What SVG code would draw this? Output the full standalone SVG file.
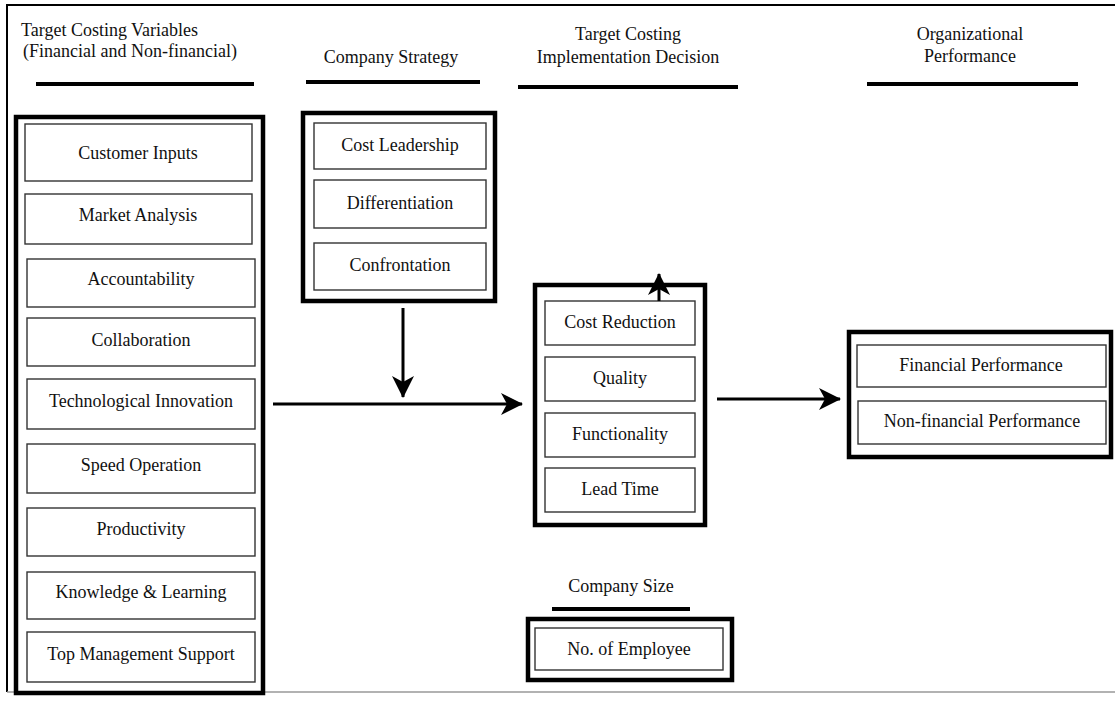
<svg xmlns="http://www.w3.org/2000/svg" width="1115" height="702" viewBox="0 0 1115 702">
<style>
text{font-family:"Liberation Serif","Times New Roman",serif;font-size:18px;fill:#111;text-anchor:middle;dominant-baseline:central}
.outer{fill:#fff;stroke:#000;stroke-width:4.5}
.inner{fill:#fff;stroke:#333;stroke-width:1.4}
.ul{stroke:#000;stroke-width:4}
.conn{stroke:#000;stroke-width:3;fill:none}
</style>
<defs>
<marker id="ah" viewBox="0 0 22 22" refX="21" refY="11" markerWidth="22" markerHeight="22" markerUnits="userSpaceOnUse" orient="auto">
<path d="M0,0 L22,11 L0,22 L6,11 Z" fill="#000"/>
</marker>
</defs>
<rect width="1115" height="702" fill="#fff"/>
<g id="frame">
<line x1="6" y1="5" x2="1115" y2="5" stroke="#000" stroke-width="2"/>
<line x1="7" y1="5" x2="7" y2="692" stroke="#000" stroke-width="2"/>
<line x1="7" y1="692" x2="1115" y2="692" stroke="#999" stroke-width="1.5"/>
</g>
<g id="headers">
<text x="21" y="30" style="text-anchor:start">Target Costing Variables</text>
<text x="23" y="51" style="text-anchor:start">(Financial and Non-financial)</text>
<line class="ul" x1="36" y1="84" x2="254" y2="84"/>
<text x="391" y="57">Company Strategy</text>
<line class="ul" x1="306" y1="82" x2="480" y2="82"/>
<text x="628" y="34">Target Costing</text>
<text x="628" y="57">Implementation Decision</text>
<line class="ul" x1="518" y1="87" x2="738" y2="87"/>
<text x="970" y="34">Organizational</text>
<text x="970" y="56">Performance</text>
<line class="ul" x1="867" y1="84" x2="1078" y2="84"/>
<text x="621" y="586">Company Size</text>
<line class="ul" x1="552" y1="609" x2="690" y2="609"/>
</g>
<g id="variables">
<rect class="outer" x="16" y="117" width="247" height="576"/>
<rect class="inner" x="25" y="124" width="227" height="57"/>
<text x="138" y="153">Customer Inputs</text>
<rect class="inner" x="25" y="194" width="227" height="50"/>
<text x="138" y="215">Market Analysis</text>
<rect class="inner" x="27" y="259" width="228" height="48"/>
<text x="141" y="279">Accountability</text>
<rect class="inner" x="27" y="318" width="228" height="48"/>
<text x="141" y="340">Collaboration</text>
<rect class="inner" x="27" y="379" width="228" height="50"/>
<text x="141" y="401">Technological Innovation</text>
<rect class="inner" x="27" y="444" width="228" height="49"/>
<text x="141" y="465">Speed Operation</text>
<rect class="inner" x="27" y="508" width="228" height="48"/>
<text x="141" y="529">Productivity</text>
<rect class="inner" x="27" y="572" width="228" height="47"/>
<text x="141" y="592">Knowledge &amp; Learning</text>
<rect class="inner" x="27" y="632" width="228" height="50"/>
<text x="141" y="654">Top Management Support</text>
</g>
<g id="strategy">
<rect class="outer" x="303" y="113" width="192" height="188"/>
<rect class="inner" x="314" y="123" width="172" height="46"/>
<text x="400" y="145">Cost Leadership</text>
<rect class="inner" x="314" y="180" width="172" height="48"/>
<text x="400" y="203">Differentiation</text>
<rect class="inner" x="314" y="243" width="172" height="47"/>
<text x="400" y="265">Confrontation</text>
</g>
<g id="implementation">
<rect class="outer" x="535" y="285" width="170" height="240"/>
<rect class="inner" x="545" y="301" width="150" height="44"/>
<text x="620" y="322">Cost Reduction</text>
<rect class="inner" x="545" y="357" width="150" height="44"/>
<text x="620" y="378">Quality</text>
<rect class="inner" x="545" y="413" width="150" height="44"/>
<text x="620" y="434">Functionality</text>
<rect class="inner" x="545" y="468" width="150" height="44"/>
<text x="620" y="489">Lead Time</text>
</g>
<g id="performance">
<rect class="outer" x="849" y="332" width="262" height="125"/>
<rect class="inner" x="857" y="345" width="249" height="42"/>
<text x="981" y="365">Financial Performance</text>
<rect class="inner" x="858" y="401" width="248" height="43"/>
<text x="982" y="421">Non-financial Performance</text>
</g>
<g id="size">
<rect class="outer" x="528" y="619" width="204" height="61"/>
<rect class="inner" x="535" y="628" width="188" height="42"/>
<text x="629" y="649">No. of Employee</text>
</g>
<g id="connectors">
<line class="conn" x1="403" y1="308" x2="403" y2="397" marker-end="url(#ah)"/>
<line class="conn" x1="273" y1="404" x2="522" y2="404" marker-end="url(#ah)"/>
<line class="conn" x1="717" y1="399" x2="840" y2="399" marker-end="url(#ah)"/>
<line class="conn" x1="659" y1="301" x2="659" y2="274" marker-end="url(#ah)"/>
</g>
</svg>
